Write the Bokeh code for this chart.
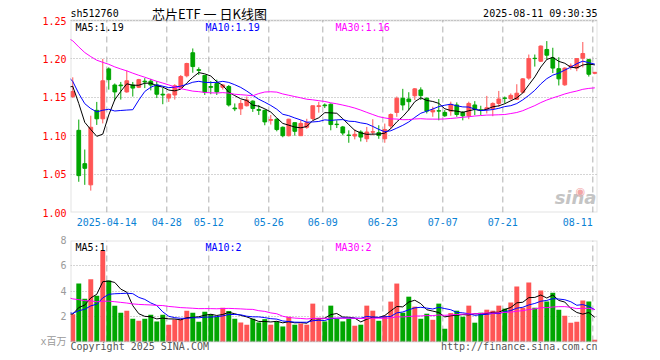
import numpy as np
from bokeh.plotting import figure
from bokeh.models import (ColumnDataSource, Range1d, FixedTicker, Label, NumeralTickFormatter,
                          CustomJSTickFormatter, BoxAnnotation)
from bokeh.layouts import column
from bokeh.embed import file_html
from bokeh.resources import INLINE

# ---------------- data ----------------
apr = [3, 7, 8, 9, 10, 11, 14, 15, 16, 17, 18, 21, 22, 23, 24, 25, 28, 29, 30]
may = [6, 7, 8, 9, 12, 13, 14, 15, 16, 19, 20, 21, 22, 23, 26, 27, 28, 29, 30]
jun = [3, 4, 5, 6, 9, 10, 11, 12, 13, 16, 17, 18, 19, 20, 23, 24, 25, 26, 27, 30]
jul = [1, 2, 3, 4, 7, 8, 9, 10, 11, 14, 15, 16, 17, 18, 21, 22, 23, 24, 25, 28, 29, 30, 31]
aug = [1, 4, 5, 6, 7, 8, 11]
dates = ([f"2025-04-{d:02d}" for d in apr] + [f"2025-05-{d:02d}" for d in may] +
         [f"2025-06-{d:02d}" for d in jun] + [f"2025-07-{d:02d}" for d in jul] +
         [f"2025-08-{d:02d}" for d in aug])

open_ = [1.151, 1.107, 1.0636, 1.036, 1.133, 1.122, 1.187, 1.166, 1.166, 1.157,
         1.166, 1.163, 1.171, 1.171, 1.166, 1.154, 1.149, 1.153, 1.163, 1.178,
         1.208, 1.186, 1.1785, 1.164, 1.168, 1.163, 1.164, 1.136, 1.135, 1.139,
         1.145, 1.134, 1.133, 1.120, 1.1215, 1.111, 1.100, 1.117, 1.100, 1.111,
         1.1224, 1.138, 1.140, 1.141, 1.115, 1.1114, 1.1008, 1.0996, 1.1048, 1.096,
         1.1046, 1.104, 1.096, 1.1127, 1.1303, 1.1487, 1.1478, 1.152, 1.1596, 1.1487,
         1.131, 1.1325, 1.1303, 1.132, 1.140, 1.1303, 1.1259, 1.140, 1.1336, 1.1346,
         1.1355, 1.142, 1.149, 1.148, 1.1474, 1.1566, 1.175, 1.2008, 1.197, 1.2123,
         1.2013, 1.1873, 1.1662, 1.190, 1.188, 1.201, 1.199, 1.1812]
high = [1.176, 1.121, 1.082, 1.126, 1.144, 1.200, 1.189, 1.168, 1.170, 1.185,
        1.170, 1.174, 1.175, 1.174, 1.171, 1.162, 1.155, 1.167, 1.179, 1.195,
        1.2136, 1.189, 1.179, 1.171, 1.173, 1.167, 1.166, 1.142, 1.1465, 1.151,
        1.146, 1.140, 1.134, 1.127, 1.1224, 1.112, 1.122, 1.117, 1.120, 1.122,
        1.139, 1.144, 1.142, 1.142, 1.120, 1.1127, 1.107, 1.1083, 1.107, 1.1114,
        1.1215, 1.1136, 1.1158, 1.129, 1.151, 1.161, 1.1566, 1.162, 1.163, 1.150,
        1.1377, 1.1478, 1.1333, 1.1443, 1.1434, 1.132, 1.1443, 1.145, 1.139, 1.1518,
        1.1434, 1.1583, 1.151, 1.155, 1.167, 1.175, 1.2057, 1.2057, 1.2175, 1.2232,
        1.2145, 1.2022, 1.189, 1.194, 1.2004, 1.222, 1.200, 1.183]
low = [1.149, 1.040, 1.036, 1.0285, 1.114, 1.116, 1.160, 1.146, 1.147, 1.156,
       1.151, 1.162, 1.162, 1.159, 1.149, 1.141, 1.144, 1.147, 1.162, 1.176,
       1.182, 1.179, 1.153, 1.154, 1.153, 1.160, 1.138, 1.132, 1.127, 1.138,
       1.131, 1.127, 1.1136, 1.1145, 1.1057, 1.098, 1.099, 1.100, 1.100, 1.109,
       1.120, 1.130, 1.136, 1.107, 1.110, 1.1004, 1.0908, 1.0952, 1.0925, 1.0917,
       1.1004, 1.096, 1.0908, 1.109, 1.1246, 1.133, 1.133, 1.1465, 1.1465, 1.129,
       1.1246, 1.120, 1.1246, 1.126, 1.1246, 1.120, 1.1215, 1.1268, 1.1268, 1.129,
       1.1254, 1.1377, 1.142, 1.147, 1.1465, 1.155, 1.1728, 1.190, 1.196, 1.199,
       1.1816, 1.1654, 1.165, 1.186, 1.184, 1.189, 1.177, 1.180]
close = [1.1575, 1.048, 1.0575, 1.111, 1.122, 1.1715, 1.173, 1.157, 1.165, 1.1715,
         1.162, 1.173, 1.170, 1.166, 1.154, 1.153, 1.154, 1.165, 1.177, 1.194,
         1.190, 1.185, 1.1566, 1.163, 1.157, 1.166, 1.140, 1.135, 1.142, 1.1465,
         1.1355, 1.133, 1.118, 1.121, 1.108, 1.100, 1.1215, 1.1057, 1.116, 1.117,
         1.139, 1.139, 1.139, 1.1145, 1.1145, 1.1035, 1.1004, 1.1018, 1.0982, 1.1048,
         1.1052, 1.1004, 1.108, 1.1276, 1.1487, 1.140, 1.1443, 1.161, 1.1522, 1.132,
         1.1333, 1.132, 1.1259, 1.1408, 1.1276, 1.1259, 1.142, 1.1346, 1.1333, 1.1364,
         1.142, 1.1478, 1.1487, 1.1525, 1.1553, 1.174, 1.2004, 1.2004, 1.2167, 1.2048,
         1.188, 1.174, 1.188, 1.191, 1.2004, 1.207, 1.180, 1.1825]
volume = [2.15, 4.59, 3.39, 4.93, 3.63, 7.16, 4.83, 2.84, 2.28, 2.44,
          1.80, 1.64, 1.80, 2.12, 1.59, 2.12, 1.33, 1.75, 1.77, 2.44,
          2.28, 1.56, 2.36, 2.15, 1.95, 2.68, 2.41, 1.80, 1.51, 1.33,
          1.80, 1.51, 1.77, 1.33, 1.59, 1.19, 1.96, 1.33, 1.43, 1.33,
          3.00, 1.88, 1.59, 2.84, 1.78, 1.59, 1.80, 1.25, 1.33, 2.84,
          2.44, 1.64, 2.04, 3.16, 4.59, 2.28, 3.55, 2.76, 1.80, 2.20,
          1.72, 3.00, 1.01, 2.25, 2.44, 1.96, 2.84, 1.49, 2.28, 2.52,
          2.44, 2.84, 2.60, 3.08, 4.35, 2.68, 4.67, 2.68, 4.03, 3.16,
          3.87, 2.52, 2.04, 1.49, 1.56, 3.24, 3.16, 0.13]

# closes / volumes of the 30 sessions before the visible window (estimated from MA start levels)
prior_close = [1.290, 1.285, 1.278, 1.270, 1.262, 1.255, 1.250, 1.258, 1.246, 1.246,
               1.252, 1.255, 1.245, 1.248, 1.232, 1.222, 1.227, 1.240, 1.248, 1.242,
               1.238, 1.205, 1.190, 1.175, 1.165, 1.150, 1.160, 1.180, 1.158, 1.166]
prior_volume = [6.2, 6.5, 5.8, 5.2, 6.0, 5.9, 4.5, 4.2, 3.9, 4.0,
                3.9, 2.8, 2.5, 2.7, 2.6, 2.6, 3.4, 3.0, 3.3, 3.1,
                3.1, 2.5, 2.3, 2.2, 2.3, 2.16, 2.0, 2.4, 2.1, 2.2]

tick_dates = ["2025-04-14", "2025-04-28", "2025-05-12", "2025-05-26", "2025-06-09",
              "2025-06-23", "2025-07-07", "2025-07-21", "2025-08-11"]
tick_labels = ["2025-04-14", "04-28", "05-12", "05-26", "06-09", "06-23", "07-07", "07-21",
               "08-11" + "\u00a0" * 5]   # last label sits left of its grid line, inside the frame
price_ticks = [1.00, 1.05, 1.10, 1.15, 1.20, 1.25]
vol_ticks = [0, 2, 4, 6, 8]

header_code = "sh512760"
header_title = "芯片ETF 一 日K线图"
header_time = "2025-08-11 09:30:35"
price_ma_text = ["MA5:1.19", "MA10:1.19", "MA30:1.16"]
vol_ma_text = ["MA5:1", "MA10:2", "MA30:2"]
footer_left = "Copyright 2025 SINA.COM"
footer_right = "http://finance.sina.com.cn"

# ---------------- derived ----------------
N = len(close)
RED, GREEN = "#ff5555", "#00a600"
idx = np.arange(N)
colors = [RED if c > o else GREEN for o, c in zip(open_, close)]
src = ColumnDataSource(dict(
    x=idx, o=open_, h=high, l=low, c=close, vol=volume,
    top=np.maximum(open_, close), bottom=np.minimum(open_, close), color=colors))


def moving_avg(prior, vals, n):
    full = np.array(prior + vals, dtype=float)
    P = len(prior)
    xs = list(range(-1, N))
    ys = [full[P + i - n + 1:P + i + 1].mean() for i in xs]
    return xs, ys


tick_idx = [dates.index(d) for d in tick_dates]
grid_pos = [i - 0.33 for i in tick_idx]

MONO = "DejaVu Sans Mono"
GRID_DASH = "#b0b0b0"
x_rng = Range1d(-0.38, 87.45)

# layout (pixels)
W, LEFT, RIGHT = 660, 70, 63
P1_H, P1_BOTTOM = 232, 20          # price frame: page y 0..212, panel box 20..212
P2_H, P2_TOP = 128, 8              # volume frame: page y 240..360, panel box 240..341
price_lo, price_hi = price_ticks[0], price_ticks[-1]
price_px = 192.0
vol_lo, vol_hi = vol_ticks[0], vol_ticks[-1]
vol_px = 101.0
price_top_ext = price_hi + 20 * (price_hi - price_lo) / price_px
vol_bot_ext = vol_lo - 19 * (vol_hi - vol_lo) / vol_px


def style_common(p, lo, hi, ticks):
    p.outline_line_color = None
    p.background_fill_color = "white"
    p.border_fill_color = "white"
    p.xgrid.visible = False
    p.ygrid.ticker = FixedTicker(ticks=ticks)
    p.ygrid.grid_line_color = "#aaaaaa"
    p.ygrid.grid_line_dash = "1 2"
    p.yaxis.ticker = FixedTicker(ticks=ticks)
    p.yaxis.axis_line_color = None
    p.yaxis.major_tick_line_color = None
    p.yaxis.minor_tick_line_color = None
    p.yaxis.major_tick_out = 0
    p.yaxis.major_label_standoff = 4
    p.yaxis.major_label_text_font = MONO
    p.yaxis.major_label_text_font_size = "10px"
    p.segment(x0=grid_pos, y0=[lo] * len(grid_pos), x1=grid_pos, y1=[hi] * len(grid_pos),
              line_color=GRID_DASH, line_dash="6 4", line_width=1)
    p.add_layout(BoxAnnotation(bottom=lo, top=hi, fill_alpha=0, line_color="#a0a0a0",
                               line_width=2, level="overlay"))


# ---------------- price panel ----------------
p1 = figure(width=W, height=P1_H, output_backend="svg", toolbar_location=None,
            x_range=x_rng, y_range=Range1d(price_lo, price_top_ext),
            min_border_left=LEFT, min_border_right=RIGHT, min_border_top=0, min_border_bottom=P1_BOTTOM)
style_common(p1, price_lo, price_hi, price_ticks)
p1.yaxis.formatter = NumeralTickFormatter(format="0.00")
p1.yaxis.major_label_text_color = "#ff0000"
p1.xaxis.ticker = FixedTicker(ticks=grid_pos)
p1.xaxis.formatter = CustomJSTickFormatter(
    args=dict(idxs=tick_idx, labs=tick_labels),
    code="const j = idxs.indexOf(Math.round(tick + 0.33)); return j >= 0 ? labs[j] : '';")
p1.xaxis.axis_line_color = None
p1.xaxis.major_tick_line_color = None
p1.xaxis.minor_tick_line_color = None
p1.xaxis.major_tick_out = 0
p1.xaxis.major_label_standoff = 4
p1.xaxis.major_label_text_font = MONO
p1.xaxis.major_label_text_font_size = "10px"
p1.xaxis.major_label_text_color = "#0a82d4"

p1.segment(x0="x", y0="l", x1="x", y1="h", color="color", line_width=1, source=src)
p1.vbar(x="x", width=0.62, top="top", bottom="bottom", fill_color="color",
        line_color="color", line_width=1, source=src)

for n, col in ((5, "black"), (10, "#0000ff"), (30, "#ff00ff")):
    xs, ys = moving_avg(prior_close, close, n)
    p1.line(xs, ys, line_color=col, line_width=1)

# screen units are measured from the frame's bottom-left corner (frame bottom = page y 212)
p1.add_layout(Label(x=0, y=199, x_units="screen", y_units="screen", text=header_code,
                    text_font=MONO, text_font_size="10px", text_color="black",
                    text_align="left", text_baseline="middle"))
p1.add_layout(Label(x=139, y=199, x_units="screen", y_units="screen", text=header_title,
                    text_font="Noto Sans CJK SC", text_font_size="13px", text_color="black",
                    text_align="center", text_baseline="middle"))
p1.add_layout(Label(x=527, y=199, x_units="screen", y_units="screen", text=header_time,
                    text_font=MONO, text_font_size="10px", text_color="black",
                    text_align="right", text_baseline="middle"))
for t, xx, col in zip(price_ma_text, (5, 135, 265), ("black", "#0000ff", "#ff00ff")):
    p1.add_layout(Label(x=xx, y=185, x_units="screen", y_units="screen", text=t,
                        text_font=MONO, text_font_size="10px", text_color=col,
                        text_align="left", text_baseline="middle"))
# watermark
p1.add_layout(Label(x=526, y=5, x_units="screen", y_units="screen", text="sina",
                    text_font="DejaVu Sans", text_font_style="bold italic", text_font_size="18px",
                    text_color="#c4c4c4", text_align="right", text_baseline="bottom"))
p1.add_layout(Label(x=510, y=21, x_units="screen", y_units="screen", text="◉",
                    text_font="DejaVu Sans", text_font_size="11px",
                    text_color="#f2a6a6", text_align="center", text_baseline="middle"))

# ---------------- volume panel ----------------
p2 = figure(width=W, height=P2_H, output_backend="svg", toolbar_location=None,
            x_range=x_rng, y_range=Range1d(vol_bot_ext, vol_hi),
            min_border_left=LEFT, min_border_right=RIGHT, min_border_top=P2_TOP, min_border_bottom=0)
style_common(p2, vol_lo, vol_hi, vol_ticks)
p2.xaxis.visible = False
p2.yaxis.major_label_overrides = {0: "x百万"}
p2.yaxis.major_label_text_color = "#9a9a9a"
p2.yaxis.major_label_text_font = "DejaVu Sans Mono, Noto Sans CJK SC"

p2.vbar(x="x", width=0.82, top="vol", bottom=0, fill_color="color", line_color=None, source=src)
for n, col in ((5, "black"), (10, "#0000ff"), (30, "#ff00ff")):
    xs, ys = moving_avg(prior_volume, volume, n)
    p2.line(xs, ys, line_color=col, line_width=1)

# frame bottom = page y 360
for t, xx, col in zip(vol_ma_text, (5, 135, 265), ("black", "#0000ff", "#ff00ff")):
    p2.add_layout(Label(x=xx, y=113, x_units="screen", y_units="screen", text=t,
                        text_font=MONO, text_font_size="10px", text_color=col,
                        text_align="left", text_baseline="middle"))
p2.add_layout(Label(x=0, y=14.5, x_units="screen", y_units="screen", text=footer_left,
                    text_font=MONO, text_font_size="10px", text_color="#555555",
                    text_align="left", text_baseline="middle"))
p2.add_layout(Label(x=527, y=14.5, x_units="screen", y_units="screen", text=footer_right,
                    text_font=MONO, text_font_size="10px", text_color="#555555",
                    text_align="right", text_baseline="middle"))

layout = column(p1, p2)
open("out.html", "w").write(file_html(layout, INLINE))
